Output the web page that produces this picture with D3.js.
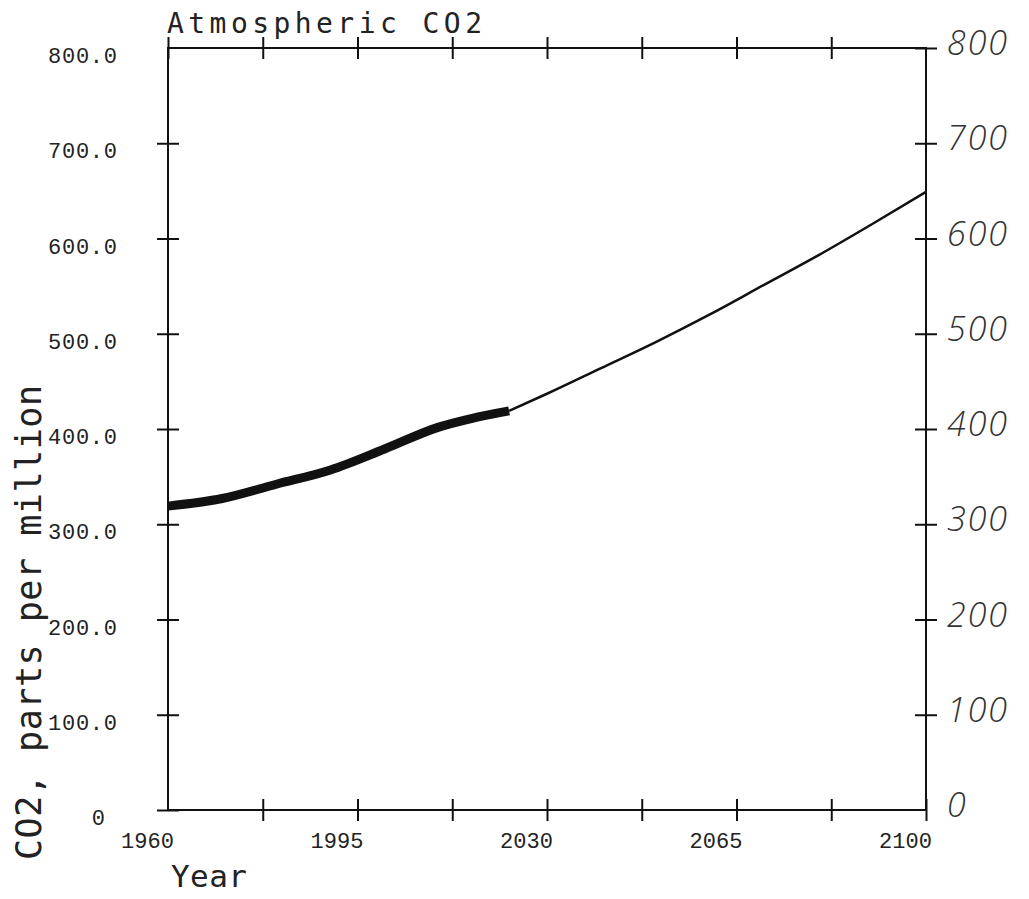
<!DOCTYPE html>
<html>
<head>
<meta charset="utf-8">
<script src="https://cdn.jsdelivr.net/npm/d3@7"></script>
<style>
  body { margin: 0; background: #fff; }
  svg text { font-family: "DejaVu Sans Mono", monospace; fill: #222; }
  .tl { font-family: "Liberation Mono", "DejaVu Sans Mono", monospace; }
  .hand { font-family: "Open Sans", sans-serif; font-style: italic; font-weight: 300; fill: #333; }
</style>
</head>
<body>
<script>
// observed (thick) and projected (thin) CO2, ppm
const obsYears = [1960, 1970, 1980, 1990, 2000, 2010, 2016, 2023];
const obsCO2 = [319, 327, 342, 357, 379, 402, 411, 419];
const projYears = [2023, 2030, 2040, 2050, 2060, 2070, 2080, 2090, 2100];
const projCO2 = [419, 437, 464, 491, 520, 551, 582, 615, 649];

const xTicks = [1960, 1977.5, 1995, 2012.5, 2030, 2047.5, 2065, 2082.5, 2100];
const xLabels = [1960, 1995, 2030, 2065, 2100];
const yTicks = [0, 100, 200, 300, 400, 500, 600, 700, 800];

const w = 1029, h = 899;
const plotLeft = 168, plotRight = 926, plotTop = 48, plotBottom = 810;

const svg = d3.select("body").append("svg")
    .attr("width", w)
    .attr("height", h);

const x = d3.scaleLinear().domain([1960, 2100]).range([plotLeft, plotRight]);
const y = d3.scaleLinear().domain([0, 800]).range([plotBottom, plotTop]);

// ticks cross the axis line, 11px each side
function crossTicks(g, horiz) {
    g.selectAll(".tick line")
        .attr(horiz ? "y1" : "x1", -11)
        .attr(horiz ? "y2" : "x2", 11);
    g.selectAll("line, path").attr("stroke", "#111").attr("stroke-width", 2);
    g.select(".domain").remove();
}

// bottom axis
svg.append("g")
    .attr("transform", "translate(0," + plotBottom + ")")
    .call(d3.axisBottom(x).tickValues(xTicks.slice(1)).tickFormat(""))
    .call(g => crossTicks(g, true));

// top axis
svg.append("g")
    .attr("transform", "translate(0," + plotTop + ")")
    .call(d3.axisTop(x).tickValues(xTicks.slice(0, -1)).tickFormat(""))
    .call(g => crossTicks(g, true));

// left axis
svg.append("g")
    .attr("transform", "translate(" + plotLeft + ",0)")
    .call(d3.axisLeft(y).tickValues(yTicks.slice(0, -1)).tickFormat(""))
    .call(g => crossTicks(g, false));

// right axis
svg.append("g")
    .attr("transform", "translate(" + plotRight + ",0)")
    .call(d3.axisRight(y).tickValues(yTicks.slice(1)).tickFormat(""))
    .call(g => crossTicks(g, false));

// frame
svg.append("rect")
    .attr("x", plotLeft).attr("y", plotTop)
    .attr("width", plotRight - plotLeft).attr("height", plotBottom - plotTop)
    .attr("fill", "none").attr("stroke", "#111").attr("stroke-width", 2);

// x labels
svg.selectAll(".xlab")
    .data(xLabels)
    .enter().append("text")
    .attr("class", "tl")
    .attr("x", d => x(d) + 6)
    .attr("y", plotBottom + 38)
    .attr("text-anchor", "end")
    .attr("font-size", 22)
    .attr("textLength", 53)
    .attr("lengthAdjust", "spacing")
    .text(d => d);

// left y labels
svg.selectAll(".ylab")
    .data(yTicks)
    .enter().append("text")
    .attr("class", "tl")
    .attr("x", d => d === 0 ? 105 : 117)
    .attr("y", d => y(d) + 15)
    .attr("text-anchor", "end")
    .attr("font-size", 22)
    .attr("textLength", d => d === 0 ? 11 : 69)
    .attr("lengthAdjust", "spacing")
    .text(d => d === 0 ? "0" : d3.format(".1f")(d));

// right y labels (handwritten on the original)
svg.selectAll(".rlab")
    .data(yTicks)
    .enter().append("text")
    .attr("class", "hand")
    .attr("x", 947)
    .attr("y", d => y(d) + 7)
    .attr("font-size", 34)
    .attr("textLength", d => d === 0 ? 16 : 60)
    .attr("lengthAdjust", "spacing")
    .text(d => d);

// title
svg.append("text")
    .attr("x", 167)
    .attr("y", 33)
    .attr("font-size", 28)
    .attr("textLength", 315)
    .attr("lengthAdjust", "spacing")
    .text("Atmospheric CO2");

// axis titles
svg.append("text")
    .attr("x", 171)
    .attr("y", 887)
    .attr("font-size", 31)
    .attr("textLength", 76)
    .attr("lengthAdjust", "spacing")
    .text("Year");

svg.append("text")
    .attr("transform", "translate(41,860) rotate(-90)")
    .attr("font-size", 35)
    .attr("textLength", 475)
    .attr("lengthAdjust", "spacing")
    .text("CO2, parts per million");

// lines
const line = d3.line()
    .x(d => x(d[0]))
    .y(d => y(d[1]))
    .curve(d3.curveMonotoneX);

svg.append("path")
    .datum(projYears.map((d, i) => [d, projCO2[i]]))
    .attr("d", line)
    .attr("fill", "none")
    .attr("stroke", "#111")
    .attr("stroke-width", 2.5);

svg.append("path")
    .datum(obsYears.map((d, i) => [d, obsCO2[i]]))
    .attr("d", line)
    .attr("fill", "none")
    .attr("stroke", "#111")
    .attr("stroke-width", 9);
</script>
</body>
</html>
